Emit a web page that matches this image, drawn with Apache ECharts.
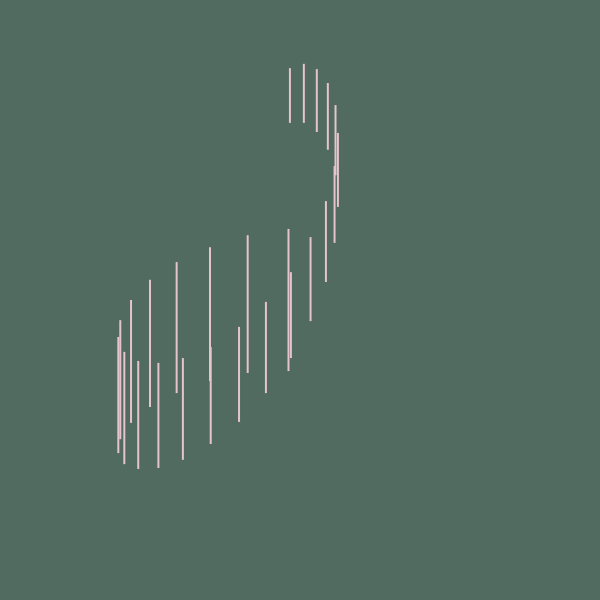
<!DOCTYPE html>
<html>
<head>
<meta charset="utf-8">
<script src="https://cdn.jsdelivr.net/npm/echarts@6/dist/echarts.min.js"></script>
<style>
  html, body { margin: 0; padding: 0; background: #516b61; }
  #chart { width: 600px; height: 600px; }
</style>
</head>
<body>
<div id="chart"></div>
<script>
// x position of each segment and its low / high values
const xs   = [12.15, 12.56, 13.4, 14.8, 16.3, 18.75, 20.5, 24.3, 25.6, 31.25, 31.4, 37.3, 39.1, 42.9, 47.6, 48.1,
              47.9, 50.8, 53.5, 55.8, 57.4, 57.9, 57.2, 55.4, 52.2]
const lows = [18.1, 21.0, 15.8, 24.4, 14.8, 27.7, 15.0, 30.6, 16.7, 33.1, 20.0, 24.6, 34.8, 30.6, 35.2, 37.9,
              86.9, 86.9, 85.0, 81.3, 76.0, 69.4, 61.9, 53.75, 45.6]
const highs = [42.3, 45.8, 39.2, 50.0, 37.3, 54.2, 36.9, 57.9, 37.9, 61.0, 40.2, 44.4, 63.5, 49.6, 64.8, 55.8,
               98.3, 99.2, 98.1, 95.2, 90.6, 84.8, 77.9, 70.6, 63.1]

let chart = echarts.init(document.getElementById('chart'))
let segData = xs.map((x, i) => [x, lows[i], highs[i]])

let option = {
  backgroundColor: '#516b61',
  animation: false,
  grid: { left: 60, right: 60, top: 60, bottom: 60 },
  xAxis: { type: 'value', min: 0, max: 100, show: false },
  yAxis: { type: 'value', min: 0, max: 100, show: false },
  series: [
    {
      type: 'custom',
      data: segData,
      renderItem: function (params, api) {
        let p1 = api.coord([api.value(0), api.value(1)])
        let p2 = api.coord([api.value(0), api.value(2)])
        return {
          type: 'line',
          shape: { x1: p1[0], y1: p1[1], x2: p2[0], y2: p2[1] },
          style: { stroke: '#e6c4cb', lineWidth: 2 }
        }
      }
    }
  ]
}

chart.setOption(option)
</script>
</body>
</html>
